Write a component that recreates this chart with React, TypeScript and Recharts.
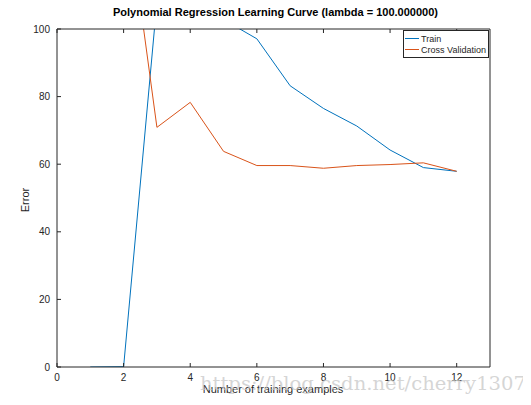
import React from 'react';
import { LineChart, Line, XAxis, YAxis } from 'recharts';

const examples = [1, 2, 3, 4, 5, 6, 7, 8, 9, 10, 11, 12];
const trainError = [0, 0.1, 108, 105, 102.8, 97.1, 83.2, 76.5, 71.3, 64.2, 59.0, 57.9];
const cvError = [140, 143.7, 70.9, 78.3, 63.8, 59.6, 59.6, 58.8, 59.6, 59.9, 60.4, 57.9];
const xTicks = [0, 2, 4, 6, 8, 10, 12];
const yTicks = [0, 20, 40, 60, 80, 100];
const seriesNames = ['Train', 'Cross Validation'];

const data = examples.map((m, i) => ({ m, train: trainError[i], cv: cvError[i] }));

const AX = '#262626';
const FONT = 'Liberation Sans, Arial, Helvetica, sans-serif';
const TRAIN = '#0072BD';
const CV = '#D95319';

const BottomTick = (props: any) => {
  const { x, y, payload } = props;
  return (
    <g>
      <line x1={x} y1={y} x2={x} y2={y - 4} stroke={AX} strokeWidth={1} />
      <text x={x} y={y + 14} textAnchor="middle" fontSize={10} fill={AX} fontFamily={FONT}>
        {payload.value}
      </text>
    </g>
  );
};
const TopTick = (props: any) => {
  const { x, y } = props;
  return <line x1={x} y1={y} x2={x} y2={y + 4} stroke={AX} strokeWidth={1} />;
};
const LeftTick = (props: any) => {
  const { x, y, payload } = props;
  return (
    <g>
      <line x1={x} y1={y} x2={x + 4} y2={y} stroke={AX} strokeWidth={1} />
      <text x={x - 7} y={y + 3.5} textAnchor="end" fontSize={10} fill={AX} fontFamily={FONT}>
        {payload.value}
      </text>
    </g>
  );
};
const RightTick = (props: any) => {
  const { x, y } = props;
  return <line x1={x} y1={y} x2={x - 4} y2={y} stroke={AX} strokeWidth={1} />;
};

export default function App() {
  return (
    <div style={{ position: 'relative', width: 523, height: 397, fontFamily: FONT }}>
      <LineChart width={523} height={397} data={data} margin={{ top: 20, right: 40, left: 0, bottom: 0 }}>
        <XAxis
          dataKey="m"
          type="number"
          domain={[0, 13]}
          ticks={xTicks}
          height={38}
          tickSize={0}
          tickMargin={0}
          tickLine={false}
          stroke={AX}
          tick={<BottomTick />}
          allowDataOverflow
        />
        <XAxis
          xAxisId="top"
          orientation="top"
          dataKey="m"
          type="number"
          domain={[0, 13]}
          ticks={xTicks}
          height={1}
          tickSize={0}
          tickMargin={0}
          tickLine={false}
          stroke={AX}
          tick={<TopTick />}
        />
        <YAxis
          type="number"
          domain={[0, 100]}
          ticks={yTicks}
          width={49}
          tickSize={0}
          tickMargin={0}
          tickLine={false}
          stroke={AX}
          tick={<LeftTick />}
          allowDataOverflow
        />
        <YAxis
          yAxisId="right"
          orientation="right"
          type="number"
          domain={[0, 100]}
          ticks={yTicks}
          width={1}
          tickSize={0}
          tickMargin={0}
          tickLine={false}
          stroke={AX}
          tick={<RightTick />}
        />
        <Line dataKey="train" name={seriesNames[0]} stroke={TRAIN} strokeWidth={1} dot={false} isAnimationActive={false} />
        <Line dataKey="cv" name={seriesNames[1]} stroke={CV} strokeWidth={1} dot={false} isAnimationActive={false} />
      </LineChart>
      <div style={{ position: 'absolute', left: 105, top: -2, width: 320, textAlign: 'center', fontSize: 11, fontWeight: 'bold', color: '#000', whiteSpace: 'nowrap' }}>
        Polynomial Regression Learning Curve (lambda = 100.000000)
      </div>
      <svg style={{ position: 'absolute', left: 0, top: 0, pointerEvents: 'none' }} width={523} height={397}>
        <text x={265} y={385} textAnchor="middle" fontFamily={FONT} fontSize={11} fill={AX}>
          Number of training examples
        </text>
        <text x={21} y={192} textAnchor="middle" fontFamily={FONT} fontSize={11} fill={AX} transform="rotate(-90 21 192)">
          Error
        </text>
        <g>
          <rect x={395.5} y={22.5} width={85} height={27} fill="#fff" stroke={AX} strokeWidth={1} />
          <line x1={397} y1={30.5} x2={411} y2={30.5} stroke={TRAIN} strokeWidth={1} />
          <text x={413} y={33.5} fontFamily={FONT} fontSize={9} fill={AX}>{seriesNames[0]}</text>
          <line x1={397} y1={41.5} x2={411} y2={41.5} stroke={CV} strokeWidth={1} />
          <text x={413} y={44.5} fontFamily={FONT} fontSize={9} fill={AX} textLength={65} lengthAdjust="spacingAndGlyphs">{seriesNames[1]}</text>
        </g>
        <text x={192} y={382} fontFamily="DejaVu Serif, serif" fontSize={18} fill="#c8c8c8" fillOpacity={0.75} textLength={326} lengthAdjust="spacingAndGlyphs">
          https://blog.csdn.net/cherry1307
        </text>
      </svg>
    </div>
  );
}
